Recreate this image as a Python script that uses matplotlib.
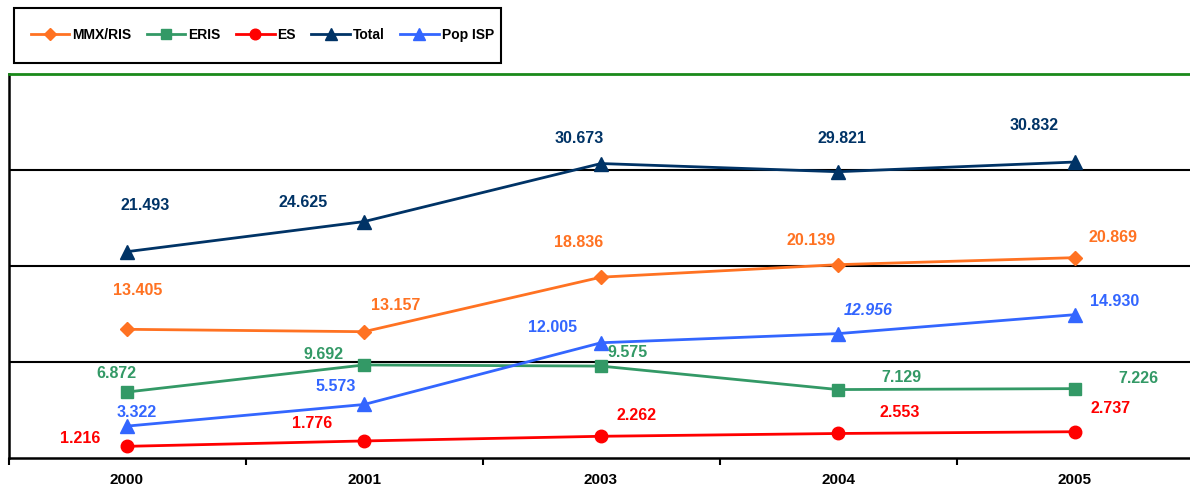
import numpy as np
import matplotlib.pyplot as plt
from matplotlib.patches import Rectangle

# data
years = ['2000', '2001', '2003', '2004', '2005']
mmx_ris = [13.405, 13.157, 18.836, 20.139, 20.869]
eris = [6.872, 9.692, 9.575, 7.129, 7.226]
es = [1.216, 1.776, 2.262, 2.553, 2.737]
total = [21.493, 24.625, 30.673, 29.821, 30.832]
pop_isp = [3.322, 5.573, 12.005, 12.956, 14.930]

series = [
    ('MMX/RIS', mmx_ris, '#FF7222', 'D', 7.5),
    ('ERIS', eris, '#339966', 's', 9),
    ('ES', es, '#FF0000', 'o', 9),
    ('Total', total, '#003366', '^', 9.5),
    ('Pop ISP', pop_isp, '#3366FF', '^', 9.5),
]

# label offsets in pixels (dx, dy)
offsets = {
    'Total': [(18, 46), (-61, 19), (-22, 25), (4, 33), (-41, 37)],
    'MMX/RIS': [(11, 39), (32, 26), (-22, 35), (-27, 24), (38, 20)],
    'ERIS': [(-11, 19), (-40, 10), (27, 14), (63, 12), (63, 10)],
    'ES': [(-47, 8), (-52, 17), (36, 21), (62, 21), (36, 23)],
    'Pop ISP': [(10, 14), (-28, 18), (-48, 15), (30, 23), (40, 13)],
}

plt.rcParams['font.family'] = ['Liberation Sans', 'DejaVu Sans']

fig = plt.figure(figsize=(11.9, 4.9), dpi=100)
ax = fig.add_axes([8.5 / 1190, 32 / 490, 1185 / 1190, 384 / 490])

x = np.arange(len(years))
handles = []
for name, vals, col, mk, ms in series:
    h, = ax.plot(x, vals, color=col, marker=mk, markersize=ms, linewidth=2, label=name)
    handles.append(h)
    for i, v in enumerate(vals):
        style = 'italic' if (name == 'Pop ISP' and i == 3) else 'normal'
        ax.annotate(f'{v:.3f}', (x[i], v), xytext=offsets[name][i], textcoords='offset pixels',
                    ha='center', va='center', color=col, fontsize=11.5, fontweight='bold', fontstyle=style)

ax.set_xlim(-0.5, len(years) - 0.5)
ax.set_ylim(0, 40)
ax.set_yticks([10, 20, 30])
ax.set_yticklabels([])
ax.tick_params(axis='y', length=0)
ax.grid(axis='y', color='black', linewidth=1.5)
ax.set_axisbelow(True)

ax.set_xticks(x)
ax.set_xticklabels(years, fontsize=11, fontweight='bold')
ax.tick_params(axis='x', which='major', length=0, pad=11)
ax.set_xticks(np.arange(-0.5, len(years)), minor=True)
ax.tick_params(axis='x', which='minor', length=5, width=1.5, direction='out')

for s in ['left', 'bottom']:
    ax.spines[s].set_color('black')
    ax.spines[s].set_linewidth(1.8)
ax.spines['top'].set_color('#1A8A1A')
ax.spines['top'].set_linewidth(2)
ax.spines['right'].set_visible(False)

# legend with a separate box
leg = fig.legend(handles=handles, loc='center left', bbox_to_anchor=(18 / 1190, 1 - 35 / 490),
                 ncol=5, frameon=False, prop={'weight': 'bold', 'size': 10},
                 handlelength=2.8, handletextpad=0.2, columnspacing=1.1, markerscale=0.85)
fig.patches.append(Rectangle((14 / 1190, 1 - 63 / 490), 487 / 1190, 55 / 490,
                             transform=fig.transFigure, fill=False, edgecolor='black', linewidth=1.5))

fig.savefig('out.png', dpi=100)
